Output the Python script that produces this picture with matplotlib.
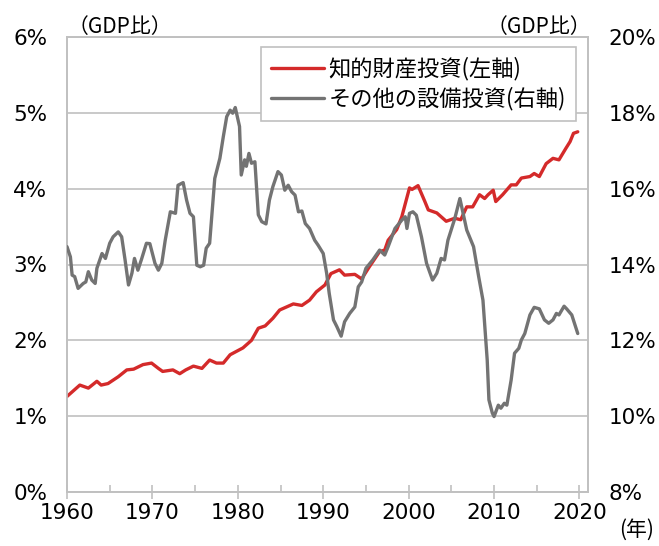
import matplotlib
matplotlib.use('Agg')
import matplotlib.pyplot as plt
from matplotlib.ticker import MultipleLocator, FuncFormatter

# 知的財産投資 (left axis, % of GDP)
ip_year = [1960.0, 1961.5, 1962.5, 1963.5, 1964.0, 1964.8, 1966.0, 1967.0, 1967.8,
           1968.9, 1969.9, 1970.7, 1971.2, 1972.4, 1973.2, 1973.9, 1974.8, 1975.8,
           1976.7, 1977.5, 1978.3, 1979.1, 1980.6, 1981.6, 1982.4, 1983.2, 1984.1,
           1984.9, 1985.7, 1986.5, 1987.5, 1988.4, 1989.2, 1990.2, 1990.9, 1991.9,
           1992.5, 1993.7, 1994.5, 1995.4, 1996.6, 1997.2, 1997.6, 1998.6, 1999.2,
           2000.1, 2000.4, 2001.1, 2001.9, 2002.3, 2003.3, 2004.4, 2005.4, 2006.1,
           2006.8, 2007.5, 2008.3, 2008.9, 2009.3, 2009.9, 2010.2, 2011.0, 2012.0,
           2012.6, 2013.2, 2014.2, 2014.7, 2015.3, 2016.1, 2016.9, 2017.6, 2018.4,
           2018.9, 2019.3, 2019.8]
ip_val = [1.26, 1.41, 1.37, 1.46, 1.41, 1.43, 1.52, 1.61, 1.62,
          1.68, 1.70, 1.63, 1.59, 1.61, 1.56, 1.61, 1.66, 1.63,
          1.74, 1.70, 1.70, 1.81, 1.90, 2.00, 2.16, 2.19, 2.29,
          2.40, 2.44, 2.48, 2.46, 2.53, 2.64, 2.73, 2.88, 2.93,
          2.86, 2.87, 2.81, 2.97, 3.17, 3.19, 3.32, 3.46, 3.63,
          4.01, 3.99, 4.04, 3.83, 3.72, 3.68, 3.57, 3.61, 3.59,
          3.76, 3.76, 3.92, 3.87, 3.92, 3.98, 3.83, 3.92, 4.05,
          4.05, 4.14, 4.16, 4.20, 4.16, 4.33, 4.40, 4.38, 4.53,
          4.62, 4.73, 4.75]

# その他の設備投資 (right axis, % of GDP)
eq_year = [1960.0, 1960.4, 1960.6, 1960.9, 1961.3, 1961.9, 1962.2, 1962.5, 1962.9,
           1963.3, 1963.5, 1964.1, 1964.5, 1965.0, 1965.4, 1966.0, 1966.4, 1966.8,
           1967.2, 1967.6, 1967.9, 1968.3, 1968.7, 1969.3, 1969.7, 1970.3, 1970.7,
           1971.1, 1971.5, 1972.1, 1972.7, 1973.0, 1973.6, 1974.0, 1974.4, 1974.8,
           1975.2, 1975.6, 1976.0, 1976.3, 1976.7, 1977.3, 1977.9, 1978.3, 1978.7,
           1979.1, 1979.4, 1979.7, 1980.2, 1980.4, 1980.8, 1981.0, 1981.3, 1981.6,
           1982.0, 1982.4, 1982.8, 1983.3, 1983.7, 1984.1, 1984.7, 1985.1, 1985.5,
           1985.9, 1986.3, 1986.7, 1987.1, 1987.5, 1987.9, 1988.4, 1989.0, 1989.4,
           1990.0, 1990.4, 1990.7, 1991.2, 1991.6, 1992.1, 1992.5, 1993.1, 1993.7,
           1994.1, 1994.5, 1995.0, 1995.8, 1996.6, 1997.2, 1997.6, 1998.4, 1999.2,
           1999.6, 1999.8, 2000.1, 2000.5, 2000.9, 2001.5, 2002.1, 2002.8, 2003.3,
           2003.8, 2004.2, 2004.6, 2005.4, 2006.0, 2006.3, 2006.8, 2007.6, 2008.2,
           2008.7, 2009.2, 2009.4, 2009.8, 2010.0, 2010.5, 2010.8, 2011.2, 2011.5,
           2012.0, 2012.4, 2012.9, 2013.2, 2013.6, 2014.2, 2014.7, 2015.3, 2015.9,
           2016.4, 2016.9, 2017.3, 2017.6, 2018.2, 2018.5, 2019.1, 2019.8]
eq_val = [14.47, 14.20, 13.72, 13.68, 13.37, 13.50, 13.54, 13.81, 13.59,
          13.50, 13.90, 14.29, 14.16, 14.56, 14.73, 14.86, 14.73, 14.12,
          13.46, 13.77, 14.16, 13.85, 14.12, 14.56, 14.55, 14.03, 13.85,
          14.03, 14.64, 15.39, 15.35, 16.09, 16.16, 15.70, 15.35, 15.26,
          13.98, 13.94, 13.98, 14.43, 14.56, 16.27, 16.80, 17.37, 17.90,
          18.07, 17.99, 18.14, 17.64, 16.36, 16.76, 16.59, 16.93, 16.67,
          16.71, 15.31, 15.13, 15.07, 15.70, 16.05, 16.45, 16.36, 15.96,
          16.09, 15.92, 15.83, 15.39, 15.41, 15.08, 14.95, 14.64, 14.51,
          14.29, 13.77, 13.24, 12.54, 12.36, 12.11, 12.49, 12.71, 12.88,
          13.41, 13.54, 13.90, 14.12, 14.38, 14.25, 14.47, 14.95, 15.17,
          15.26, 14.95, 15.35, 15.39, 15.30, 14.73, 14.03, 13.59, 13.77,
          14.16, 14.12, 14.64, 15.21, 15.74, 15.43, 14.91, 14.47, 13.68,
          13.06, 11.48, 10.43, 10.08, 9.99, 10.29, 10.21, 10.34, 10.29,
          10.95, 11.66, 11.79, 12.01, 12.18, 12.67, 12.87, 12.83, 12.54,
          12.45, 12.54, 12.71, 12.67, 12.90, 12.83, 12.67, 12.18]

labels = ['知的財産投資(左軸)', 'その他の設備投資(右軸)']
jp_font = ['Noto Sans CJK JP', 'DejaVu Sans']
grid_col = '#c0c0c0'
tick_size = 15.5

fig = plt.figure(figsize=(6.59, 5.46), dpi=100)
ax = fig.add_axes([67 / 659, 54 / 546, 521 / 659, 455 / 546])
ax2 = ax.twinx()

l1, = ax.plot(ip_year, ip_val, color='#d42a2a', lw=2.4, solid_capstyle='round', zorder=3)
l2, = ax2.plot(eq_year, eq_val, color='#737373', lw=2.4, solid_capstyle='round', zorder=3)

ax.set_xlim(1960, 2021)
ax.set_ylim(0, 6)
ax2.set_ylim(8, 20)

ax.xaxis.set_major_locator(MultipleLocator(10))
ax.xaxis.set_minor_locator(MultipleLocator(5))
ax.yaxis.set_major_locator(MultipleLocator(1))
ax2.yaxis.set_major_locator(MultipleLocator(2))
ax.yaxis.set_major_formatter(FuncFormatter(lambda v, p: f'{v:.0f}%'))
ax2.yaxis.set_major_formatter(FuncFormatter(lambda v, p: f'{v:.0f}%'))

ax.grid(axis='y', color=grid_col, lw=1.2)
ax.set_axisbelow(True)
for a in (ax, ax2):
    for s in a.spines.values():
        s.set_color(grid_col)
        s.set_linewidth(1.2)

ax.tick_params(axis='x', which='major', direction='inout', length=10, width=1.2,
               color=grid_col, labelsize=tick_size, pad=3)
ax.tick_params(axis='x', which='minor', direction='in', length=5, width=1.2,
               color=grid_col)
ax.tick_params(axis='y', length=0, labelsize=tick_size, pad=14)
ax2.tick_params(axis='y', length=0, labelsize=tick_size, pad=15)

leg = ax.legend([l1, l2], labels, loc='upper right', bbox_to_anchor=(0.985, 0.988),
                prop={'family': jp_font, 'size': 16}, handlelength=2.4,
                handletextpad=0.2, labelspacing=0.3, borderpad=0.45,
                borderaxespad=0.2, fancybox=False, framealpha=1, edgecolor=grid_col)
leg.get_frame().set_linewidth(1.2)

fig.text(0.182, 0.951, '（GDP比）', family=jp_font, fontsize=15, ha='center', va='center')
fig.text(0.817, 0.951, '（GDP比）', family=jp_font, fontsize=15, ha='center', va='center')
fig.text(0.966, 0.03, '(年)', family=jp_font, fontsize=15, ha='center', va='center')

fig.savefig('out.png', dpi=100)
